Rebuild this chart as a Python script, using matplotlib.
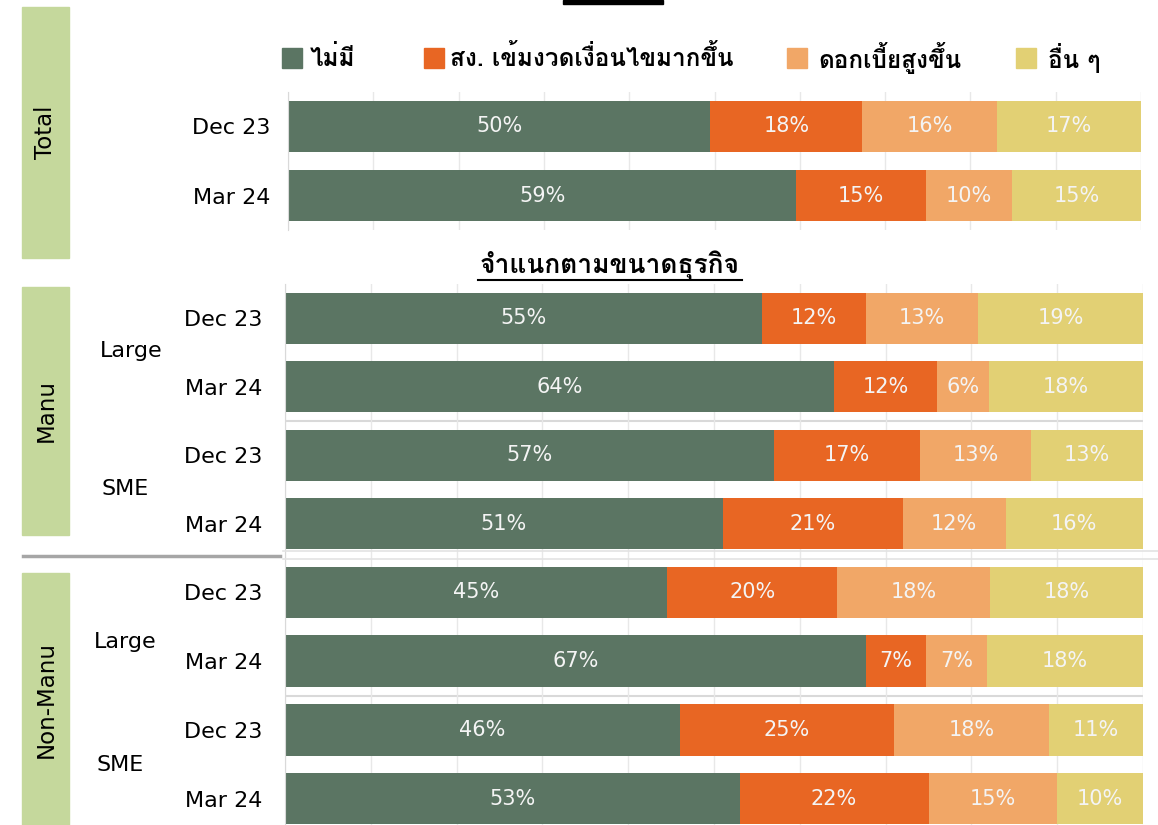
#!/usr/bin/env python3
"""
Stacked bar chart: reasons for (not) getting credit, Dec 23 vs Mar 24
"""
import matplotlib
matplotlib.use('Agg')
import matplotlib.pyplot as plt
from matplotlib import font_manager
from matplotlib.ft2font import FT2Font
from matplotlib.patches import Rectangle
from matplotlib.lines import Line2D

# --- data ---
categories = ['ไม่มี', 'สง. เข้มงวดเงื่อนไขมากขึ้น', 'ดอกเบี้ยสูงขึ้น', 'อื่น ๆ']
periods = ['Dec 23', 'Mar 24']
total = [[50, 18, 16, 17], [59, 15, 10, 15]]
manu_large = [[55, 12, 13, 19], [64, 12, 6, 18]]
manu_sme = [[57, 17, 13, 13], [51, 21, 12, 16]]
nonmanu_large = [[45, 20, 18, 18], [67, 7, 7, 18]]
nonmanu_sme = [[46, 25, 18, 11], [53, 22, 15, 10]]
groups = ['Large', 'SME']
subtitle = 'จำแนกตามขนาดธุรกิจ'

colors = ['#5B7563', '#E86623', '#F1A767', '#E2D074']
BOX = '#C5D89C'

W, H = 1158, 825


def find_thai_font():
    """Busca una fuente instalada con glifos tailandeses"""
    for f in font_manager.fontManager.ttflist:
        try:
            if 0x0E01 in FT2Font(f.fname).get_charmap():
                return f.name
        except Exception:
            pass
    return None


thai = find_thai_font()
THAI = [thai, 'DejaVu Sans'] if thai else ['DejaVu Sans']


def fx(px):
    return px / W


def fy(py):
    return 1 - py / H


def draw_rows(ax, rows, labels, pad):
    y = list(range(len(rows)))
    left = [0] * len(rows)
    for i, c in enumerate(colors):
        widths = [r[i] / sum(r) * 100 for r in rows]
        ax.barh(y, widths, left=left, height=0.75, color=c, zorder=2)
        for yy, l, w, r in zip(y, left, widths, rows):
            ax.text(l + w / 2, yy, f'{r[i]}%', ha='center', va='center',
                    color='#F4F4F4', fontsize=15, zorder=3)
        left = [a + b for a, b in zip(left, widths)]
    ax.set_xlim(0, 100)
    ax.set_ylim(len(rows) - 0.5, -0.5)
    ax.set_xticks(range(0, 101, 10))
    ax.set_xticklabels([])
    ax.set_yticks(y)
    ax.set_yticklabels(labels, fontsize=16)
    ax.tick_params(length=0, axis='both')
    ax.tick_params(axis='y', pad=pad)
    ax.grid(axis='x', color='#E8E8E8', lw=1, zorder=0)
    for s in ['top', 'right', 'bottom']:
        ax.spines[s].set_visible(False)
    ax.spines['left'].set_color('#D9D9D9')


fig = plt.figure(figsize=(W / 100, H / 100), dpi=100)

# top panel
ax1 = fig.add_axes([fx(288), fy(230), fx(1141 - 288), 138 / H])
draw_rows(ax1, total, periods, 13)

# Manu panel
ax2 = fig.add_axes([fx(285), fy(558), fx(858), 274 / H])
draw_rows(ax2, manu_large + manu_sme, periods * 2, 16)
ax2.axhline(1.5, color='#D9D9D9', lw=1.5, zorder=1)

# Non-Manu panel
ax3 = fig.add_axes([fx(285), fy(833), fx(858), 275 / H])
draw_rows(ax3, nonmanu_large + nonmanu_sme, periods * 2, 16)
ax3.axhline(1.5, color='#D9D9D9', lw=1.5, zorder=1)

# side boxes
for (y0, y1, label) in [(7, 258, 'Total'), (287, 535, 'Manu'), (573, 830, 'Non-Manu')]:
    fig.patches.append(Rectangle((fx(22), fy(y1)), fx(47), (y1 - y0) / H,
                                 transform=fig.transFigure, color=BOX, zorder=0))
    fig.text(fx(46), fy((y0 + min(y1, 825)) / 2), label, rotation=90,
             ha='center', va='center', fontsize=16.5)

# group labels
for (x, y, label) in [(131, 351, groups[0]), (125, 489, groups[1]),
                      (125, 642, groups[0]), (120, 765, groups[1])]:
    fig.text(fx(x), fy(y), label, ha='center', va='center', fontsize=16)

# separators
fig.lines.append(Line2D([fx(23), fx(280)], [fy(556), fy(556)], transform=fig.transFigure,
                        color='#A6A6A6', lw=2.5))
for yy in [551, 559]:
    fig.lines.append(Line2D([fx(283), fx(1158)], [fy(yy), fy(yy)], transform=fig.transFigure,
                            color='#E3E3E3', lw=1.2))

# cut-off title underline at the very top
fig.patches.append(Rectangle((fx(563), fy(4)), fx(100), 4 / H,
                             transform=fig.transFigure, color='black'))

# legend
for (sx, tx, c, label) in zip([282, 424, 787, 1016], [310, 450, 818, 1048], colors, categories):
    fig.patches.append(Rectangle((fx(sx), fy(68)), fx(20), 20 / H,
                                 transform=fig.transFigure, color=c))
    fig.text(fx(tx), fy(58), label, ha='left', va='center', fontsize=17.5,
             fontweight='bold', family=THAI)

# subtitle
fig.text(fx(610), fy(265), subtitle, ha='center', va='center', fontsize=19,
         fontweight='bold', family=THAI)
fig.lines.append(Line2D([fx(478), fx(742)], [fy(280), fy(280)], transform=fig.transFigure,
                        color='black', lw=1.5))

fig.savefig('out.png', dpi=100)
